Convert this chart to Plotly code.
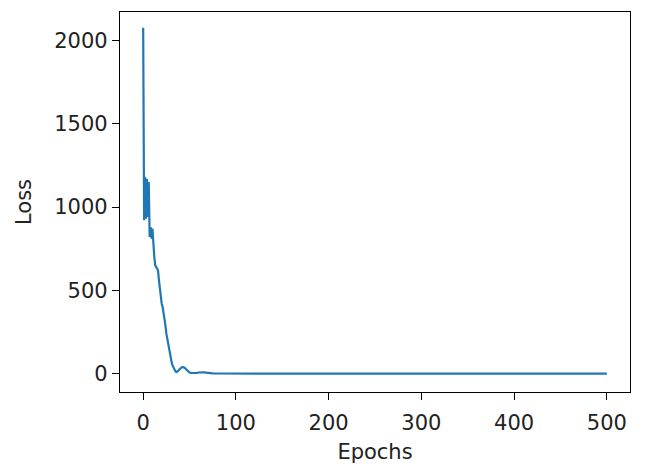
import plotly.graph_objects as go

epochs = [0, 1, 2, 3, 4, 5, 6, 7, 8, 9, 10, 11, 12, 13, 14, 15, 16, 17, 18, 19,
          20, 21, 22, 23, 24, 25, 26, 27, 28, 29, 30, 31, 32, 33, 34, 35, 36, 37, 38, 39,
          40, 41, 42, 43, 44, 45, 46, 47, 48, 49, 50, 52, 54, 56, 58, 60, 62, 64, 66, 68,
          70, 72, 75, 80, 90, 100, 150, 200, 250, 300, 350, 400, 450, 500]
loss = [2075, 920, 1180, 930, 1170, 940, 1150, 820, 880, 810, 870, 760, 700, 650, 640, 630, 620, 560, 500, 450,
        420, 400, 370, 330, 290, 240, 210, 180, 150, 110, 80, 60, 45, 30, 18, 12, 10, 12, 18, 25,
        32, 38, 40, 40, 38, 34, 28, 22, 16, 11, 7, 4, 3, 4, 5, 7, 8, 9, 8, 6,
        4, 3, 2, 1, 0.6, 0.4, 0.3, 0.2, 0.2, 0.1, 0.1, 0.1, 0.1, 0.1]

x_ticks = [0, 100, 200, 300, 400, 500]
y_ticks = [0, 500, 1000, 1500, 2000]

fig = go.Figure(go.Scatter(x=epochs, y=loss, mode="lines",
                           line=dict(color="#1f77b4", width=2.2), showlegend=False))

axis_common = dict(showline=True, linecolor="black", linewidth=1.3, mirror=True,
                   ticks="outside", ticklen=7, tickwidth=1.3, tickcolor="black",
                   showgrid=False, zeroline=False,
                   tickfont=dict(family="DejaVu Sans", size=21, color="#222"),
                   title_font=dict(family="DejaVu Sans", size=21, color="#222"))

fig.update_layout(
    width=646, height=469,
    margin=dict(l=112, r=24, t=4, b=85),
    paper_bgcolor="white", plot_bgcolor="white",
    xaxis=dict(range=[-25, 525], tickvals=x_ticks, ticklabelstandoff=5,
               title=dict(text="Epochs", standoff=9), **axis_common),
    yaxis=dict(range=[-110, 2170], tickvals=y_ticks,
               title=dict(text="Loss", standoff=16), **axis_common),
)

fig.write_html("out.html")
